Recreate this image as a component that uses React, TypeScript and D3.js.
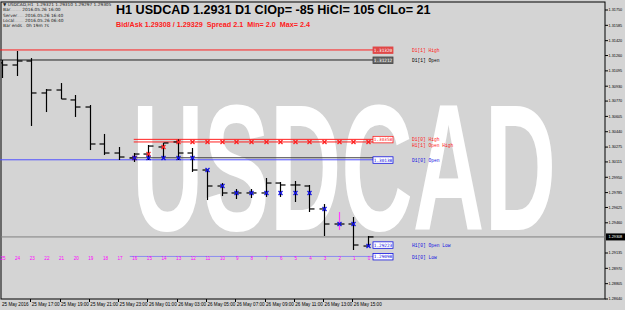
import React from 'react';
import * as d3 from 'd3';

const W = 625;
const H = 310;

// bars from index 25 (oldest) to 0 (current)
const barIndex = [25, 24, 23, 22, 21, 20, 19, 18, 17, 16, 15, 14, 13, 12, 11, 10, 9, 8, 7, 6, 5, 4, 3, 2, 1, 0];
const opens = [1.31180, 1.31158, 1.31201, 1.30857, 1.30889, 1.30782, 1.30706, 1.30308, 1.30211, 1.30157, 1.30200, 1.30276, 1.30330, 1.30211, 1.30028, 1.29856, 1.29781, 1.29781, 1.29781, 1.29888, 1.29867, 1.29856, 1.29609, 1.29447, 1.29447, 1.29210];
const highs = [1.31212, 1.31309, 1.31233, 1.30900, 1.30964, 1.30835, 1.30728, 1.30416, 1.30276, 1.30211, 1.30297, 1.30319, 1.30358, 1.30265, 1.30039, 1.29888, 1.29824, 1.29824, 1.29942, 1.29899, 1.29910, 1.29867, 1.29662, 1.29576, 1.29522, 1.29318];
const lows = [1.31018, 1.31040, 1.30502, 1.30652, 1.30792, 1.30599, 1.30243, 1.30190, 1.30136, 1.30114, 1.30136, 1.30157, 1.30136, 1.30007, 1.29705, 1.29748, 1.29716, 1.29727, 1.29738, 1.29738, 1.29684, 1.29576, 1.29318, 1.29383, 1.29167, 1.29200];
const closes = [1.31158, 1.31201, 1.30857, 1.30889, 1.30792, 1.30706, 1.30308, 1.30211, 1.30168, 1.30200, 1.30286, 1.30319, 1.30211, 1.30028, 1.29856, 1.29781, 1.29781, 1.29781, 1.29888, 1.29867, 1.29867, 1.29609, 1.29447, 1.29447, 1.29221, 1.29308];
const highlightBar = 2;
const dayStartBar = 16;

const timeLabels = ['25 May 2016', '25 May 17:00', '25 May 19:00', '25 May 21:00', '25 May 23:00', '26 May 01:00', '26 May 03:00', '26 May 05:00', '26 May 07:00', '26 May 09:00', '26 May 11:00', '26 May 13:00', '26 May 15:00'];
const timeLabelBars = [25, 23, 21, 19, 17, 15, 13, 11, 9, 7, 5, 3, 1];

const priceTicks = [1.31750, 1.31585, 1.31420, 1.31260, 1.31095, 1.30930, 1.30770, 1.30605, 1.30440, 1.30275, 1.30115, 1.29950, 1.29785, 1.29625, 1.29460, 1.29135, 1.28970, 1.28805, 1.28640];
const currentPrice = 1.29308;

const levelNames = ['D1[1] High', 'D1[1] Open', 'D1[0] High', 'H1[1] Open High', 'D1[0] Open', 'H1[0] Open Low', 'D1[0] Low'];
const levelValues = [1.31320, 1.31212, 1.30358, 1.30330, 1.30138, 1.29223, 1.29098];
const dayOpenValue = 1.30160;

const titleText = 'H1 USDCAD 1.2931 D1 ClOp= -85 HiCl= 105 ClLo= 21';
const subText = 'Bid/Ask 1.29308 / 1.29329  Spread 2.1  Min= 2.0  Max= 2.4';
const infoHeads = ['\u25BC USDCAD,H1  1.29321 1.29310 1.29297 1.29305', 'Bar', 'Server', 'Local', 'Bar ends'];
const infoDots = ['', '........', '.....', '.......', '..'];
const infoValues = ['', ' 2016.05.26 16:00', ' 2016.05.26 16:40', ' 2016.05.26 06:40', ' 0h 19m 7s'];

const BG = '#d4d4d4';
const RED = '#ff2020';
const BLUE = '#1010e0';

export default function App() {
  const plotL = 1, plotR = 605, plotT = 2, plotB = 299;
  const y = d3.scaleLinear().domain([1.28640, 1.31750]).range([299, 10]);
  const x = d3.scaleLinear().domain([25, 0]).range([2, 368]);
  const tick = 5;
  const boxX = 373, boxW = 20, labX = 412, lineEnd = 373;

  // running max/min of hourly opens since day start
  const runMax: { i: number; v: number }[] = [];
  const runMin: { i: number; v: number }[] = [];
  let mx = -Infinity, mn = Infinity;
  barIndex.forEach((b, k) => {
    if (b <= dayStartBar) {
      mx = Math.max(mx, opens[k]);
      mn = Math.min(mn, opens[k]);
      runMax.push({ i: b, v: mx });
      runMin.push({ i: b, v: mn });
    }
  });

  const dayX = x(dayStartBar);
  const xMark = (cx: number, cy: number, color: string, key: string) => (
    <g key={key} stroke={color} strokeWidth={1.3}>
      <line x1={cx - 2} y1={cy - 2} x2={cx + 2} y2={cy + 2} />
      <line x1={cx - 2} y1={cy + 2} x2={cx + 2} y2={cy - 2} />
    </g>
  );

  const levelStyle = [
    { line: RED, x0: 0, fill: '#e04848', stroke: '#e04848', text: '#ffffff', lab: RED },
    { line: '#202020', x0: 0, fill: '#6a6a6a', stroke: '#404040', text: '#ffffff', lab: '#000000' },
    { line: RED, x0: dayX, fill: '#ffffff', stroke: RED, text: RED, lab: RED },
    { line: RED, x0: dayX, fill: 'none', stroke: 'none', text: 'none', lab: RED },
    { line: '#5050ff', x0: 0, fill: '#ffffff', stroke: BLUE, text: BLUE, lab: BLUE },
    { line: 'none', x0: 0, fill: '#ffffff', stroke: BLUE, text: BLUE, lab: BLUE },
    { line: '#8c8cf0', x0: dayX - 4, fill: '#ffffff', stroke: BLUE, text: BLUE, lab: BLUE },
  ];
  const labOffset = [1, 1, 0, 4, 1, 1, 1];

  return (
    <svg width={W} height={H} style={{ position: 'fixed', left: 0, top: 0, background: BG }} fontFamily="Liberation Sans, Arial, sans-serif">
      <rect x={0} y={0} width={W} height={H} fill={BG} />
      <defs>
        <clipPath id="plot"><rect x={plotL} y={plotT} width={plotR - plotL} height={plotB - plotT} /></clipPath>
      </defs>
      {/* watermark */}
      <text x={132} y={230} fontSize={180} fontWeight="bold" fill="#ffffff" textLength={424} lengthAdjust="spacingAndGlyphs">USDCAD</text>

      {/* frame */}
      <rect x={plotL} y={plotT} width={plotR - plotL} height={plotB - plotT} fill="none" stroke="#000" strokeWidth={1} />

      {/* current price line */}
      <line x1={plotL} x2={plotR} y1={y(currentPrice)} y2={y(currentPrice)} stroke="#808080" strokeWidth={1} />

      {/* level lines */}
      <line x1={dayX - 4} x2={lineEnd} y1={y(dayOpenValue)} y2={y(dayOpenValue)} stroke="#404040" strokeWidth={1} />
      {levelValues.map((v, k) => levelStyle[k].line !== 'none' && (
        <line key={'lv' + k} x1={levelStyle[k].x0} x2={lineEnd} y1={y(v)} y2={y(v)} stroke={levelStyle[k].line} strokeWidth={1} />
      ))}

      {/* bars */}
      <g clipPath="url(#plot)">
        {barIndex.map((b, k) => {
          const cx = Math.round(x(b)) + 0.5;
          const col = b === highlightBar ? '#ff40ff' : '#000';
          return (
            <g key={'b' + b}>
              <line x1={cx} x2={cx} y1={y(highs[k])} y2={y(lows[k])} stroke={col} strokeWidth={1.2} />
              <line x1={cx - tick} x2={cx} y1={y(opens[k])} y2={y(opens[k])} stroke="#000" strokeWidth={1.2} />
              <line x1={cx} x2={cx + tick} y1={y(closes[k])} y2={y(closes[k])} stroke="#000" strokeWidth={1.2} />
            </g>
          );
        })}
        {runMax.map((d) => xMark(Math.round(x(d.i)) + 0.5, y(d.v), RED, 'mx' + d.i))}
        {runMin.map((d) => xMark(Math.round(x(d.i)) + 0.5, y(d.v), BLUE, 'mn' + d.i))}
      </g>

      {/* bar count numbers */}
      {barIndex.map((b) => (
        <text key={'n' + b} x={x(b) + 1} y={260} fontSize={4.6} fill="#ff00ff" textAnchor="middle">{b}</text>
      ))}

      {/* level boxes and labels */}
      {levelValues.map((v, k) => {
        const s = levelStyle[k];
        const yy = y(v);
        return (
          <g key={'lb' + k}>
            {s.stroke !== 'none' && (
              <g>
                <rect x={boxX} y={yy - 3} width={boxW} height={6.5} fill={s.fill} stroke={s.stroke} strokeWidth={0.8} />
                <text x={boxX + boxW / 2} y={yy + 2} fontSize={4.4} fill={s.text} textAnchor="middle" fontFamily="DejaVu Sans Mono, monospace">{v.toFixed(5)}</text>
              </g>
            )}
            <text x={labX} y={yy + 1.5 + labOffset[k]} fontSize={4.6} fill={s.lab} fontFamily="Liberation Mono, DejaVu Sans Mono, monospace">{levelNames[k]}</text>
          </g>
        );
      })}

      {/* right axis */}
      {priceTicks.map((p) => (
        <g key={'pt' + p}>
          <line x1={plotR} x2={plotR + 3} y1={y(p)} y2={y(p)} stroke="#000" />
          <text x={608.5} y={y(p) + 1.4} fontSize={3.8} fill="#000">{p.toFixed(5)}</text>
        </g>
      ))}
      <rect x={606} y={y(currentPrice) - 3.5} width={19} height={7} fill="#000" />
      <text x={608.5} y={y(currentPrice) + 1.4} fontSize={3.8} fill="#fff">{currentPrice.toFixed(5)}</text>

      {/* time axis */}
      {timeLabelBars.map((b, k) => (
        <g key={'tl' + k}>
          {k > 0 && <line x1={Math.round(x(b)) - 0.5} x2={Math.round(x(b)) - 0.5} y1={plotB} y2={plotB + 3} stroke="#000" />}
          <text x={x(b) + (k === 0 ? 0 : 0.5)} y={306} fontSize={4.6} fill="#000">{timeLabels[k]}</text>
        </g>
      ))}

      {/* titles */}
      <text x={116} y={13.8} fontSize={12.6} fontWeight="bold" fill="#000">{titleText}</text>
      <text x={116} y={26.5} fontSize={6.6} fontWeight="bold" fill={RED} style={{ whiteSpace: 'pre' }} textLength={194} lengthAdjust="spacingAndGlyphs">{subText}</text>

      {/* info block */}
      {infoHeads.map((h, k) => (
        <text key={'il' + k} x={3} y={6.2 + k * 5.2} fontSize={4.3} fill="#202020" fontFamily="DejaVu Sans, sans-serif" style={{ whiteSpace: 'pre' }}>
          {h}<tspan fill="#9a9a9a">{infoDots[k]}</tspan>{infoValues[k]}
        </text>
      ))}
    </svg>
  );
}
